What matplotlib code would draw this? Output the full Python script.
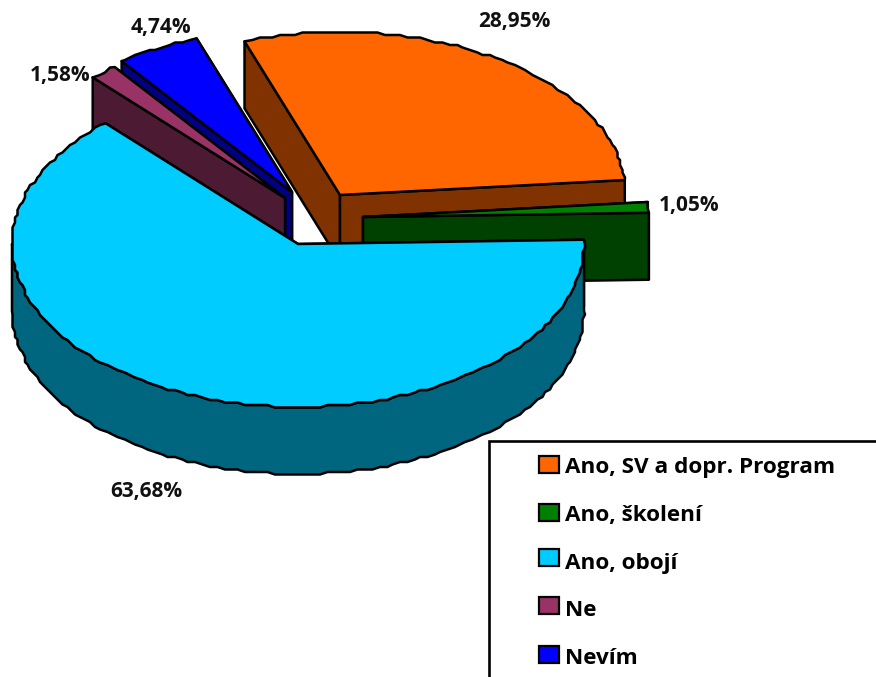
#!/usr/bin/python3
import numpy as np
import matplotlib
matplotlib.use('Agg')
import matplotlib.pyplot as plt
from matplotlib.patches import Polygon, Rectangle

labels = ['Ano, SV a dopr. Program', 'Ano, školení', 'Ano, obojí', 'Ne', 'Nevím']
values = [28.95, 1.05, 63.68, 1.58, 4.74]
value_text = ['28,95%', '1,05%', '63,68%', '1,58%', '4,74%']

top_colors = ['#FF6600', '#008000', '#00CCFF', '#993366', '#0000FF']
side_colors = ['#803300', '#004000', '#006680', '#4D1A33', '#000080']

# exploded slice apex in pixels, label position
apex = [(340, 195), (363, 217), (298, 244), (285, 198), (292, 192)]
label_pos = [(514, 22), (689, 205), (146, 491), (60, 75), (161, 27)]
draw_order = [0, 1, 4, 3, 2]

RX = 286
RY = 163
DEPTH = 67
START = 109.5
LW = 1.8
STAIR = 2.5  # the reference edge is jagged, it was scaled up from a small bitmap

plt.rcParams['font.family'] = ['Open Sans', 'DejaVu Sans']

fig = plt.figure(figsize=(8.76, 6.77), dpi=100)
ax = fig.add_axes([0, 0, 1, 1])
ax.set_xlim(0, 876)
ax.set_ylim(677, 0)
ax.axis('off')


def rim(c, a0, a1):
    # fixed angle grid so wall and top surface step at the same places
    lo, hi = min(a0, a1), max(a0, a1)
    grid = np.arange(np.ceil(lo / 1.5) * 1.5, hi, 1.5)
    grid = grid[grid > lo]
    a = np.concatenate([[lo], grid, [hi]])
    t = np.radians(a if a0 < a1 else a[::-1])
    pts = np.column_stack([c[0] + RX * np.cos(t), c[1] - RY * np.sin(t)])
    # keep the slice corners exact, step the rest
    pts[1:-1] = np.round(pts[1:-1] / STAIR) * STAIR
    return pts


def poly(pts, color):
    ax.add_patch(Polygon(pts, closed=True, facecolor=color, edgecolor='black',
                         linewidth=LW, joinstyle='round'))


# clockwise from START, like the spreadsheet pie does
ends = START - np.cumsum(values) * 3.6
starts = np.concatenate([[START], ends[:-1]])

for i in draw_order:
    c = apex[i]
    a_hi, a_lo = starts[i], ends[i]

    # radial faces, the one further back first
    for a in sorted([a_hi, a_lo], key=lambda d: -np.sin(np.radians(d))):
        p = rim(c, a, a)[0]
        poly([c, p, (p[0], p[1] + DEPTH), (c[0], c[1] + DEPTH)], side_colors[i])

    # outer wall, only the front half of the ellipse shows
    lo = max(a_lo, -180)
    hi = min(a_hi, 0)
    if hi > lo:
        edge = rim(c, lo, hi)
        low = edge + [0, DEPTH]
        poly(np.vstack([edge, low[::-1]]), side_colors[i])

    # top surface
    poly(np.vstack([[c], rim(c, a_hi, a_lo)]), top_colors[i])

for txt, (x, y) in zip(value_text, label_pos):
    ax.text(x, y, txt, ha='center', va='center', fontsize=15, fontweight='bold', color='#111111')

# legend box, runs off the right and bottom edge
ax.plot([489, 489, 876], [677, 441, 441], color='black', lw=1.9, solid_joinstyle='miter', clip_on=False)
swatch_y = [456, 504, 549, 597, 646]
text_y = [467, 515, 563, 611, 658]
for i, name in enumerate(labels):
    ax.add_patch(Rectangle((539, swatch_y[i]), 20, 17, facecolor=top_colors[i],
                           edgecolor='black', linewidth=1.6))
    ax.text(565, text_y[i], name, ha='left', va='center', fontsize=16.2, fontweight='bold', color='black')

fig.savefig('out.png', dpi=100)
